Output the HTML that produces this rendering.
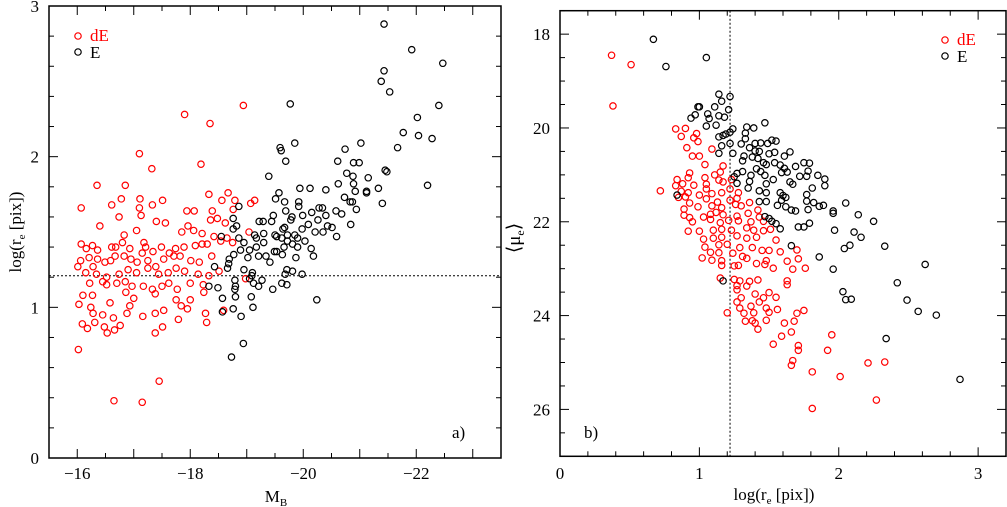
<!DOCTYPE html>
<html><head><meta charset="utf-8"><style>
body{margin:0;background:#fff}
svg{display:block}
text{font-family:"Liberation Serif",serif}
</style></head><body>
<svg id="chart" width="1007" height="507" viewBox="0 0 1007 507" xmlns="http://www.w3.org/2000/svg"></svg>
<script>
const leftTickLabels=["-16","-18","-20","-22"];
const leftTickVals=[-16,-18,-20,-22];
const leftYTickVals=[0,1,2,3];
const rightXTickVals=[0,1,2,3];
const rightYTickVals=[18,20,22,24,26];
const leftCut=[1.21];
const rightCut=[1.22];
const aRedM=[-16.02,-16.65,-17.15,-17.45,-17.9,-18.35,-18.94,-17.1,-17.32,-18.19,-16.35,-16.85,-16.07,-16.61,-16.78,-17.11,-17.51,-16.4,-16.74,-17.1,-17.13,-17.33,-18.33,-18.67,-18.56,-18.79,-19.14,-19.07,-17.94,-18.07,-18.39,-18.76,-17.4,-17.56,-17.05,-16.83,-17.96,-18.06,-17.85,-18.21,-18.36,-18.48,-18.62,-19.04,-16.07,-16.16,-16.27,-16.36,-16.61,-16.68,-16.8,-16.93,-17.18,-17.21,-17.15,-17.34,-17.49,-17.63,-17.74,-17.89,-18.09,-18.21,-18.3,-18.42,-18.54,-18.65,-18.75,-16.01,-16.06,-16.21,-16.36,-16.49,-16.59,-16.67,-16.83,-16.95,-17.06,-17.25,-17.39,-17.53,-17.71,-17.82,-18.01,-18.16,-18.38,-16.15,-16.28,-16.34,-16.52,-16.74,-16.9,-17.05,-17.25,-17.44,-17.61,-17.75,-17.9,-18.14,-18.33,-18.51,-16.22,-16.45,-16.52,-16.7,-16.85,-16.97,-17.17,-17.33,-17.5,-17.62,-17.77,-18.0,-18.23,-18.98,-16.1,-16.27,-16.86,-17.0,-17.38,-18.24,-17.75,-18.0,-16.03,-16.24,-16.58,-16.93,-17.84,-16.28,-16.45,-16.64,-16.88,-17.38,-17.53,-17.95,-18.27,-16.09,-16.31,-16.48,-16.76,-17.16,-17.79,-18.29,-16.18,-16.53,-16.66,-17.38,-17.51,-18.59];
const aRedR=[0.72,0.38,0.37,0.51,2.28,2.22,2.34,2.02,1.92,1.95,1.81,1.81,1.66,1.68,1.72,1.72,1.71,1.54,1.6,1.66,1.61,1.68,1.75,1.76,1.71,1.71,1.71,1.69,1.64,1.64,1.64,1.65,1.57,1.56,1.51,1.48,1.54,1.51,1.5,1.49,1.58,1.59,1.56,1.5,1.42,1.39,1.41,1.38,1.4,1.4,1.43,1.39,1.43,1.4,1.36,1.37,1.4,1.36,1.39,1.4,1.41,1.42,1.42,1.47,1.44,1.46,1.43,1.27,1.31,1.33,1.32,1.3,1.31,1.34,1.34,1.32,1.3,1.31,1.27,1.32,1.34,1.34,1.31,1.3,1.34,1.23,1.27,1.22,1.2,1.22,1.25,1.23,1.26,1.22,1.23,1.26,1.24,1.22,1.21,1.24,1.16,1.17,1.15,1.16,1.17,1.14,1.14,1.12,1.14,1.16,1.12,1.16,1.15,1.19,1.08,1.08,1.1,1.06,1.09,1.1,1.05,1.05,1.02,1.0,1.03,1.01,1.01,0.96,0.95,0.93,0.96,0.96,0.98,0.99,0.96,0.89,0.9,0.87,0.88,0.94,0.92,0.9,0.86,0.83,0.85,0.83,0.87,0.98];
const aBlkM=[-21.43,-21.92,-22.47,-21.43,-21.38,-21.53,-19.77,-22.4,-22.02,-21.77,-22.04,-22.28,-19.59,-19.61,-19.85,-21.02,-20.74,-21.67,-19.69,-20.61,-20.89,-20.99,-19.39,-20.77,-21.45,-21.48,-21.15,-22.2,-20.62,-20.88,-20.89,-20.92,-21.12,-21.12,-21.33,-21.4,-19.94,-20.12,-20.4,-19.57,-19.51,-19.67,-20.73,-20.83,-20.87,-20.94,-19.92,-19.92,-18.86,-20.28,-20.34,-20.58,-20.68,-19.69,-19.47,-19.8,-19.78,-19.99,-20.15,-18.76,-19.22,-19.29,-19.44,-20.09,-20.26,-20.4,-20.43,-20.51,-20.84,-18.82,-18.76,-19.67,-19.64,-19.98,-20.21,-20.35,-20.59,-19.3,-19.5,-19.53,-19.14,-19.17,-18.55,-18.86,-18.95,-19.3,-19.62,-19.72,-19.85,-19.9,-20.03,-19.72,-19.66,-19.81,-19.9,-20.14,-20.18,-18.77,-18.89,-19.05,-19.17,-19.49,-19.53,-19.63,-19.34,-19.21,-19.41,-19.87,-19.02,-18.69,-18.43,-18.66,-18.68,-18.95,-19.1,-19.09,-19.71,-19.81,-19.68,-19.98,-18.79,-19.05,-19.12,-19.27,-19.21,-18.8,-18.79,-18.33,-18.49,-19.46,-19.62,-19.71,-18.57,-18.8,-19.08,-20.24,-19.11,-18.76,-18.57,-18.9,-18.94,-18.73];
const aBlkR=[2.88,2.71,2.62,2.57,2.5,2.43,2.35,2.34,2.26,2.16,2.14,2.12,2.06,2.04,2.09,2.09,2.05,2.06,1.97,1.97,1.96,1.96,1.87,1.89,1.91,1.9,1.86,1.81,1.82,1.87,1.82,1.77,1.77,1.76,1.79,1.69,1.79,1.79,1.78,1.76,1.72,1.7,1.73,1.7,1.7,1.65,1.7,1.67,1.67,1.66,1.66,1.64,1.62,1.64,1.61,1.6,1.58,1.61,1.63,1.59,1.57,1.57,1.57,1.55,1.58,1.61,1.54,1.53,1.55,1.54,1.52,1.53,1.52,1.52,1.5,1.5,1.47,1.49,1.48,1.47,1.48,1.46,1.47,1.46,1.43,1.43,1.46,1.48,1.48,1.46,1.44,1.44,1.4,1.42,1.4,1.39,1.34,1.35,1.38,1.38,1.4,1.37,1.37,1.35,1.34,1.34,1.3,1.33,1.33,1.32,1.27,1.26,1.29,1.25,1.23,1.21,1.25,1.24,1.22,1.22,1.18,1.19,1.16,1.18,1.14,1.14,1.12,1.14,1.13,1.12,1.16,1.15,1.06,1.07,1.07,1.05,1.0,0.99,0.97,0.94,0.76,0.67];
const bBlkR=[0.67,0.76,1.05,1.14,1.22,1.16,0.99,1.0,1.11,1.21,1.06,1.14,1.18,0.94,0.97,1.07,1.05,1.12,1.24,1.22,1.19,1.17,1.14,1.34,1.39,1.47,1.33,1.33,1.52,1.55,1.49,1.44,1.4,1.3,1.22,1.16,1.14,1.24,1.36,1.4,1.43,1.5,1.54,1.65,1.61,1.32,1.38,1.42,1.31,1.46,1.48,1.54,1.58,1.75,1.79,1.69,1.61,1.41,1.44,1.47,1.27,1.31,1.78,1.59,1.63,1.25,1.37,1.72,1.77,1.85,1.9,1.53,1.27,1.36,1.48,1.65,1.67,1.81,1.9,1.35,1.43,1.48,1.58,1.77,0.84,1.6,1.62,1.43,1.48,1.59,1.77,1.82,2.05,1.56,1.62,1.86,1.89,1.66,1.69,1.78,1.96,1.96,2.14,1.47,1.5,2.25,1.79,1.52,1.55,1.58,1.71,1.75,1.97,2.11,2.16,2.08,2.04,2.33,1.66,1.86,2.62,1.96,2.42,1.17,2.03,2.05,2.09,2.49,2.57,2.7,2.34,2.87];
const bBlkMu=[18.11,18.69,18.5,19.28,19.33,19.43,19.55,19.55,19.55,19.61,19.7,19.74,19.77,19.79,19.72,19.8,19.96,19.94,20.02,20.09,20.13,20.16,20.19,19.98,20.0,19.89,20.11,20.23,20.26,20.28,20.33,20.32,20.33,20.34,20.33,20.38,20.54,20.54,20.42,20.49,20.5,20.55,20.52,20.51,20.6,20.6,20.62,20.65,20.7,20.74,20.78,20.74,20.79,20.74,20.75,20.82,20.86,20.87,20.93,21.01,20.97,20.93,20.92,20.95,20.94,21.04,21.01,21.03,21.03,21.01,21.09,21.1,21.18,21.14,21.19,21.15,21.2,21.28,21.23,21.28,21.34,21.38,21.38,21.42,21.43,21.44,21.48,21.57,21.57,21.54,21.56,21.59,21.6,21.65,21.68,21.67,21.65,21.75,21.77,21.74,21.77,21.82,21.85,21.89,21.93,21.99,22.03,21.99,22.04,22.15,22.11,22.11,22.18,22.22,22.33,22.5,22.57,22.52,22.51,22.75,22.91,23.01,23.3,23.26,23.49,23.66,23.65,23.67,23.91,23.99,24.49,25.36];
const bRedR=[0.37,0.51,0.38,0.72,0.83,0.9,0.87,0.98,0.96,0.99,0.91,1.09,0.95,1.0,1.04,1.17,0.93,1.15,0.92,1.04,1.11,0.84,0.88,0.96,1.05,1.14,1.17,1.23,0.83,0.87,0.92,1.0,1.05,1.09,1.16,1.22,1.28,0.85,0.9,1.05,1.13,1.22,1.27,0.93,0.89,0.99,1.09,1.16,1.26,1.3,1.36,1.42,0.89,0.93,1.03,1.08,1.12,1.17,1.27,1.35,1.43,0.95,1.08,1.15,1.21,1.28,1.37,1.46,0.92,1.0,1.1,1.16,1.23,1.34,1.39,1.46,1.51,1.03,1.1,1.16,1.27,1.34,1.41,1.55,1.04,1.14,1.2,1.29,1.38,1.45,1.5,1.58,1.7,1.08,1.14,1.24,1.31,1.34,1.02,1.09,1.16,1.48,1.63,1.71,1.16,1.25,1.28,1.41,1.47,1.53,1.67,1.76,1.15,1.25,1.29,1.36,1.42,1.27,1.34,1.63,1.63,1.27,1.4,1.5,1.55,1.3,1.27,1.43,1.46,1.37,1.48,1.56,1.75,1.29,1.2,1.32,1.39,1.5,1.7,1.33,1.38,1.4,1.42,1.48,1.61,1.68,1.66,1.59,1.95,1.53,1.71,1.71,1.92,1.67,1.66,2.21,2.33,1.81,2.01,2.27,1.81];
const bRedMu=[18.45,18.65,19.53,21.34,20.02,20.01,20.18,20.12,20.21,20.29,20.42,20.45,20.6,20.6,20.78,20.81,20.96,20.94,21.06,21.06,21.0,21.1,21.19,21.22,21.2,21.11,21.15,21.1,21.23,21.35,21.38,21.43,21.3,21.4,21.38,21.3,21.38,21.48,21.47,21.51,21.58,21.54,21.5,21.6,21.73,21.68,21.66,21.7,21.63,21.66,21.59,21.75,21.86,21.91,21.9,21.84,21.8,21.85,21.88,21.82,21.9,22.0,21.95,22.02,21.97,21.98,22.0,21.99,22.2,22.2,22.18,22.16,22.18,22.13,22.18,22.19,22.16,22.37,22.35,22.33,22.3,22.35,22.33,22.39,22.54,22.49,22.48,22.55,22.55,22.61,22.61,22.64,22.6,22.65,22.66,22.67,22.74,22.78,22.77,22.82,22.83,22.83,22.84,22.79,22.93,22.94,22.93,22.89,22.91,22.99,23.01,22.99,23.2,23.23,23.26,23.27,23.24,23.36,23.37,23.26,23.34,23.45,23.54,23.51,23.61,23.62,23.71,23.71,23.62,23.8,23.84,23.87,23.89,23.84,23.94,23.95,23.94,23.93,23.95,24.12,24.11,24.16,24.29,24.1,24.16,24.12,24.35,24.44,24.41,24.61,24.64,24.74,24.74,24.96,25.06,25.01,24.99,25.2,25.3,25.8,25.98];

const NS="http://www.w3.org/2000/svg";
const svg=document.getElementById('chart');
function el(tag,attrs,parent){const e=document.createElementNS(NS,tag);for(const k in attrs)e.setAttribute(k,attrs[k]);(parent||svg).appendChild(e);return e;}

const L={x0:49,x1:501,y0:6,y1:458,xmin:-15.5,xmax:-23.5,ymin:0,ymax:3};
const R={x0:560,x1:1006,y0:10.7,y1:456.3,xmin:0,xmax:3.2,ymin:17.5,ymax:27};
const lx=v=>L.x0+(v-L.xmin)/(L.xmax-L.xmin)*(L.x1-L.x0);
const ly=v=>L.y1-(v-L.ymin)/(L.ymax-L.ymin)*(L.y1-L.y0);
const rx=v=>R.x0+(v-R.xmin)/(R.xmax-R.xmin)*(R.x1-R.x0);
const ry=v=>R.y0+(v-R.ymin)/(R.ymax-R.ymin)*(R.y1-R.y0);

function ticks(P,fx,fy,xmajStep,xminStep,ymajStep,yminStep,g){
  const eps=1e-6;
  for(let v=Math.ceil(Math.min(P.xmin,P.xmax)/xminStep)*xminStep;v<=Math.max(P.xmin,P.xmax)+eps;v+=xminStep){
    const maj=Math.abs(v/xmajStep-Math.round(v/xmajStep))<1e-6;const len=maj?9:5;const x=fx(v);
    el('line',{x1:x,y1:P.y1,x2:x,y2:P.y1-len,stroke:'#000','stroke-width':1},g);
    el('line',{x1:x,y1:P.y0,x2:x,y2:P.y0+len,stroke:'#000','stroke-width':1},g);
  }
  for(let v=Math.ceil(P.ymin/yminStep)*yminStep;v<=P.ymax+eps;v+=yminStep){
    const maj=Math.abs(v/ymajStep-Math.round(v/ymajStep))<1e-6;const len=maj?9:5;const y=fy(v);
    el('line',{x1:P.x0,y1:y,x2:P.x0+len,y2:y,stroke:'#000','stroke-width':1},g);
    el('line',{x1:P.x1,y1:y,x2:P.x1-len,y2:y,stroke:'#000','stroke-width':1},g);
  }
}
function pts(xs,ys,fx,fy,color,name,g){
  for(let i=0;i<xs.length;i++){
    const c=el('circle',{cx:fx(xs[i]),cy:fy(ys[i]),r:3.2,fill:'none',stroke:color,'stroke-width':1.2},g);
    
    
  }
}

const ga=el('g',{});


ticks(L,lx,ly,1,0.5,1,0.2,ga);
leftTickVals.forEach((v,i)=>{const t=el('text',{x:lx(v),y:479,'font-size':17,'text-anchor':'middle'},ga);t.textContent=leftTickLabels[i].replace('-','\u2212');
});
leftYTickVals.forEach(v=>{const t=el('text',{x:39,y:ly(v)+6,'font-size':17,'text-anchor':'end'},ga);t.textContent=String(v);
});
const hl=el('line',{x1:L.x0,x2:L.x1,y1:ly(leftCut[0]),y2:ly(leftCut[0]),stroke:'#000','stroke-width':1,'stroke-dasharray':'2,2'},ga);

pts(aRedM,aRedR,lx,ly,'#f00','de-point',ga);
pts(aBlkM,aBlkR,lx,ly,'#000','e-point',ga);
el('rect',{x:L.x0,y:L.y0,width:L.x1-L.x0,height:L.y1-L.y0,fill:'none',stroke:'#000','stroke-width':1.5},ga);

const gb=el('g',{});


ticks(R,rx,ry,1,0.2,2,0.5,gb);
rightXTickVals.forEach(v=>{const t=el('text',{x:rx(v),y:479,'font-size':17,'text-anchor':'middle'},gb);t.textContent=String(v);
});
rightYTickVals.forEach(v=>{const t=el('text',{x:550,y:ry(v)+6,'font-size':17,'text-anchor':'end'},gb);t.textContent=String(v);
});
const vl=el('line',{x1:rx(rightCut[0]),x2:rx(rightCut[0]),y1:R.y0,y2:R.y1,stroke:'#000','stroke-width':1,'stroke-dasharray':'2,2'},gb);

pts(bRedR,bRedMu,rx,ry,'#f00','de-point',gb);
pts(bBlkR,bBlkMu,rx,ry,'#000','e-point',gb);
el('rect',{x:R.x0,y:R.y0,width:R.x1-R.x0,height:R.y1-R.y0,fill:'none',stroke:'#000','stroke-width':1.5},gb);
</script>
<svg style="position:absolute;left:0;top:0" width="1007" height="507" xmlns="http://www.w3.org/2000/svg">
<g font-family="Liberation Serif, serif" font-size="17">
<circle cx="78" cy="36" r="3.2" fill="none" stroke="#f00" stroke-width="1.2"/>
<text x="90" y="41" fill="#f00">dE</text>
<circle cx="78" cy="52" r="3.2" fill="none" stroke="#000" stroke-width="1.2"/>
<text x="90" y="58" fill="#000">E</text>
<circle cx="945" cy="40" r="3.2" fill="none" stroke="#f00" stroke-width="1.2"/>
<text x="957" y="45" fill="#f00">dE</text>
<circle cx="945" cy="56" r="3.2" fill="none" stroke="#000" stroke-width="1.2"/>
<text x="957" y="62" fill="#000">E</text>
<text x="452" y="438">a)</text>
<text x="584" y="438">b)</text>
<text x="276" y="502" text-anchor="middle">M<tspan font-size="11" dy="4">B</tspan></text>
<text x="774" y="500" text-anchor="middle">log(r<tspan font-size="11" dy="4">e</tspan><tspan dy="-4"> [pix])</tspan></text>
<text transform="translate(21,232) rotate(-90)" text-anchor="middle">log(r<tspan font-size="11" dy="4">e</tspan><tspan dy="-4"> [pix])</tspan></text>
<text transform="translate(520,238) rotate(-90)" text-anchor="middle" font-size="19">⟨μ<tspan font-size="12" dy="4">e</tspan><tspan dy="-4">⟩</tspan></text>
</g>
</svg>
</body></html>
